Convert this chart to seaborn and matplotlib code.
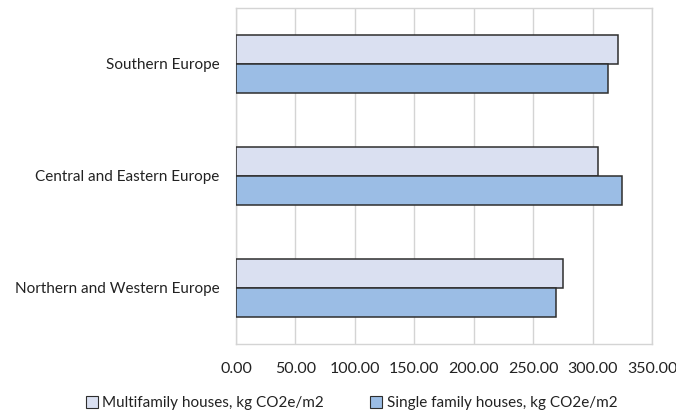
import matplotlib
matplotlib.use("Agg")
import matplotlib.pyplot as plt
import seaborn as sns
import pandas as pd
from matplotlib.patches import Patch

regions = ["Southern Europe", "Central and Eastern Europe", "Northern and Western Europe"]
multifamily = [321.6, 304.2, 274.8]
single_family = [312.7, 324.4, 268.9]
series_names = ["Multifamily houses, kg CO2e/m2", "Single family houses, kg CO2e/m2"]
x_ticks = [0, 50, 100, 150, 200, 250, 300, 350]

colors = ["#DAE0F1", "#9BBDE5"]
edge = "#2e2e2e"
grid_color = "#d4d4d4"

df = pd.DataFrame({
    "region": regions * 2,
    "value": multifamily + single_family,
    "series": [series_names[0]] * len(regions) + [series_names[1]] * len(regions),
})

sns.set_theme(style="white")
plt.rcParams["font.family"] = ["Lato", "DejaVu Sans"]

fig = plt.figure(figsize=(6.76, 4.13), dpi=100)
ax = fig.add_axes([236 / 676, 1 - 344 / 413, (652 - 236) / 676, (344 - 8) / 413])

sns.barplot(
    data=df, y="region", x="value", hue="series", order=regions,
    hue_order=series_names, palette=colors, saturation=1, orient="h",
    width=0.52, gap=0, edgecolor=edge, linewidth=1.1, legend=False, ax=ax,
    zorder=3,
)

ax.set_xlim(0, 350)
ax.set_ylim(2.5, -0.5)
ax.set_xticks(x_ticks)
ax.set_xticklabels([f"{t:.2f}" for t in x_ticks], fontsize=11.5, color="#222222")
ax.tick_params(axis="x", length=0, pad=13)
ax.tick_params(axis="y", length=0, pad=12, labelsize=11, labelcolor="#222222")
ax.set_xlabel("")
ax.set_ylabel("")
ax.xaxis.grid(True, color=grid_color, linewidth=1)
ax.set_axisbelow(True)
for s in ax.spines.values():
    s.set_color(grid_color)
    s.set_linewidth(1)

handles = [Patch(facecolor=c, edgecolor=edge, linewidth=0.8) for c in colors]
fig.legend(handles, series_names, loc="center", bbox_to_anchor=(0.52, 1 - 403 / 413),
           ncol=2, frameon=False, fontsize=11, handlelength=0.8, handleheight=0.8,
           handletextpad=0.3, columnspacing=3.0, labelcolor="#222222")

fig.savefig("out.png", dpi=100)
